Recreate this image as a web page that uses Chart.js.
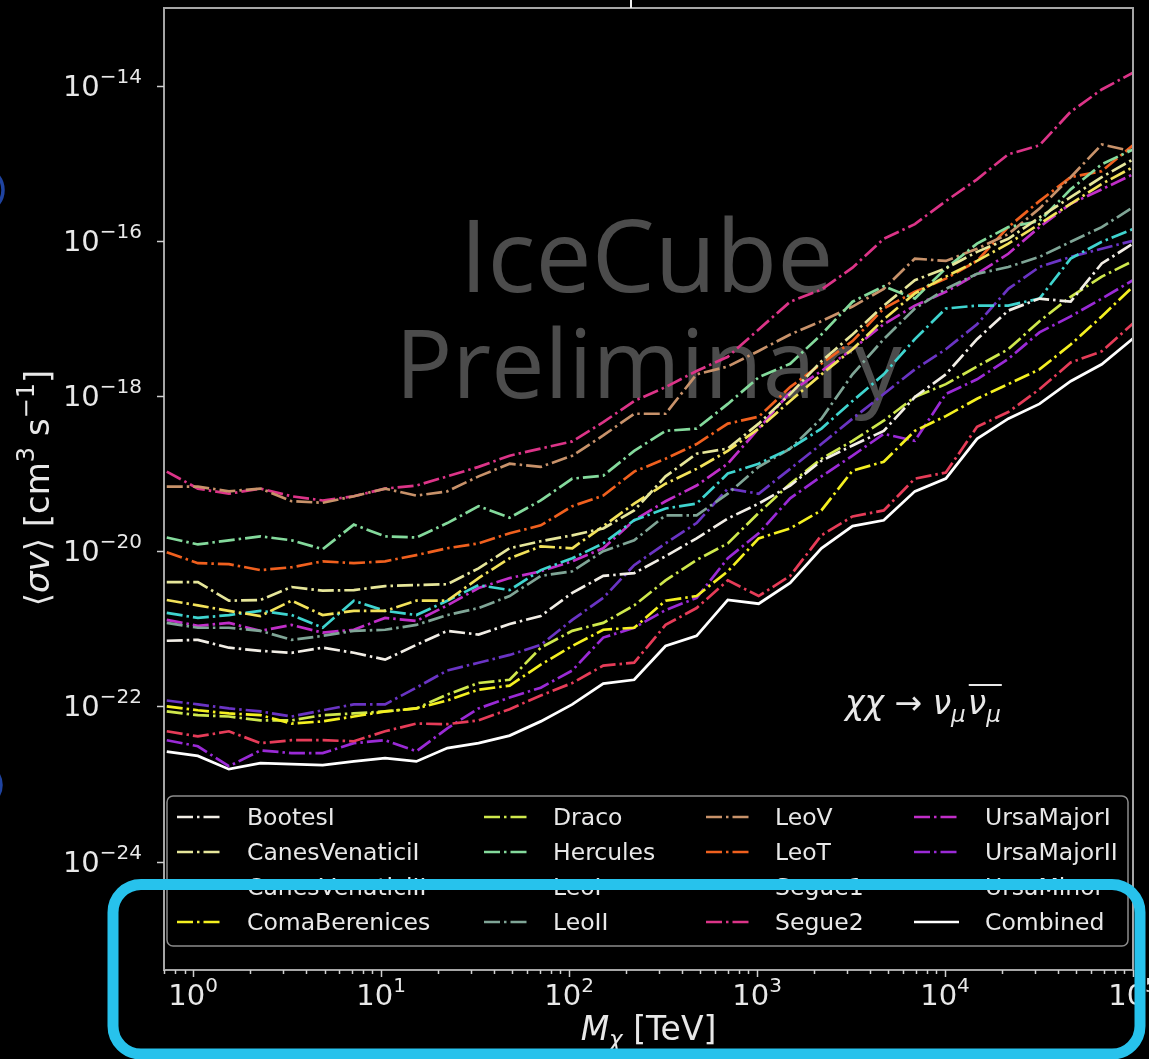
<!DOCTYPE html>
<html>
<head>
<meta charset="utf-8">
<script src="https://cdn.jsdelivr.net/npm/chart.js@4/dist/chart.umd.min.js"></script>
<style>
  html, body { margin: 0; padding: 0; background: #000; }
  canvas { display: block; }
</style>
</head>
<body>
<canvas id="limits" width="1149" height="1059"></canvas>
<script>
// Dark-matter mass grid [TeV]
const massTeV = [0.724, 1.06, 1.55, 2.28, 3.34, 4.89, 7.16, 10.5, 15.4, 22.5, 33.0, 48.3, 70.7, 104, 152, 222,
                 326, 477, 699, 1020, 1500, 2200, 3220, 4720, 6910, 10100, 14800, 21700, 31800, 46600, 68200, 100000];

// 90% C.L. upper limits on <sigma v> [cm^3 s^-1], chi chi -> nu_mu nu_mu-bar
const bootesI = [7.0e-22, 7.2e-22, 5.7e-22, 5.2e-22, 4.9e-22, 5.7e-22, 4.9e-22, 4.0e-22, 6.2e-22, 9.4e-22, 8.4e-22, 1.15e-21, 1.46e-21, 2.9e-21, 4.8e-21, 5.2e-21, 8.6e-21, 1.46e-20, 2.64e-20, 4.1e-20, 7.0e-20, 1.46e-19, 2.3e-19, 3.55e-19, 9.7e-19, 1.9e-18, 5.4e-18, 1.26e-17, 1.8e-17, 1.64e-17, 5.1e-17, 9.2e-17];
const canesVenaticiI = [4.0e-21, 4.0e-21, 2.3e-21, 2.35e-21, 3.45e-21, 3.1e-21, 3.15e-21, 3.55e-21, 3.65e-21, 3.75e-21, 6.0e-21, 1.09e-20, 1.34e-20, 1.6e-20, 1.96e-20, 3.35e-20, 9.2e-20, 1.8e-19, 2.1e-19, 4.4e-19, 1.06e-18, 2.8e-18, 6.2e-18, 1.46e-17, 3.1e-17, 4.4e-17, 7.2e-17, 1.06e-16, 2.0e-16, 3.65e-16, 6.6e-16, 1.12e-15];
const canesVenaticiII = [2.35e-21, 2.0e-21, 1.7e-21, 1.46e-21, 2.3e-21, 1.5e-21, 1.7e-21, 1.7e-21, 2.3e-21, 2.3e-21, 4.5e-21, 8.1e-21, 1.15e-20, 1.09e-20, 2.1e-20, 4.1e-20, 7.4e-20, 1.15e-19, 1.96e-19, 3.8e-19, 8.6e-19, 1.9e-18, 4.0e-18, 9.7e-18, 2.1e-17, 3.45e-17, 5.5e-17, 9.2e-17, 1.64e-16, 3.0e-16, 5.4e-16, 8.9e-16];
const comaBerenices = [1.0e-22, 8.9e-23, 8.1e-23, 7.7e-23, 6.0e-23, 6.4e-23, 7.4e-23, 8.6e-23, 9.4e-23, 1.19e-22, 1.64e-22, 1.85e-22, 3.45e-22, 6.0e-22, 9.7e-22, 1.03e-21, 2.3e-21, 2.64e-21, 5.5e-21, 1.46e-20, 1.96e-20, 3.35e-20, 1.09e-19, 1.42e-19, 3.55e-19, 5.5e-19, 9.2e-19, 1.42e-18, 2.2e-18, 4.6e-18, 1.06e-17, 2.56e-17];
const draco = [8.6e-23, 7.7e-23, 7.4e-23, 6.6e-23, 6.6e-23, 7.7e-23, 8.1e-23, 8.6e-23, 9.4e-23, 1.42e-22, 2.0e-22, 2.2e-22, 5.7e-22, 9.4e-22, 1.19e-21, 2.0e-21, 4.2e-21, 7.7e-21, 1.26e-20, 3.1e-20, 7.4e-20, 1.55e-19, 2.64e-19, 4.8e-19, 9.7e-19, 1.42e-18, 2.4e-18, 4.0e-18, 9.2e-18, 1.9e-17, 3.45e-17, 5.5e-17];
const hercules = [1.5e-20, 1.22e-20, 1.38e-20, 1.55e-20, 1.38e-20, 1.06e-20, 2.2e-20, 1.55e-20, 1.5e-20, 2.3e-20, 3.8e-20, 2.7e-20, 4.5e-20, 8.6e-20, 9.4e-20, 1.96e-19, 3.55e-19, 3.8e-19, 7.9e-19, 1.74e-18, 2.6e-18, 6.2e-18, 1.64e-17, 2.6e-17, 1.8e-17, 4.4e-17, 9.2e-17, 1.5e-16, 1.8e-16, 4.6e-16, 9.7e-16, 1.5e-15];
const leoI = [1.6e-21, 1.38e-21, 1.5e-21, 1.7e-21, 1.5e-21, 1.03e-21, 2.3e-21, 1.7e-21, 1.5e-21, 2.3e-21, 3.65e-21, 3.15e-21, 5.7e-21, 8.1e-21, 1.26e-20, 2.5e-20, 3.55e-20, 4.1e-20, 1.0e-19, 1.34e-19, 2.1e-19, 3.8e-19, 8.6e-19, 1.9e-18, 5.4e-18, 1.34e-17, 1.46e-17, 1.46e-17, 1.8e-17, 5.9e-17, 9.7e-17, 1.42e-16];
const leoII = [1.19e-21, 1.03e-21, 1.03e-21, 9.4e-22, 7.2e-22, 8.1e-22, 9.4e-22, 9.7e-22, 1.12e-21, 1.5e-21, 1.85e-21, 2.64e-21, 4.8e-21, 5.5e-21, 1.0e-20, 1.38e-20, 2.9e-20, 2.9e-20, 5.5e-20, 1.22e-19, 2.1e-19, 5.1e-19, 1.9e-18, 5.4e-18, 1.34e-17, 2.4e-17, 3.75e-17, 4.6e-17, 6.2e-17, 9.7e-17, 1.5e-16, 2.7e-16];
const leoV = [6.8e-20, 6.8e-20, 5.9e-20, 6.4e-20, 4.4e-20, 4.2e-20, 5.1e-20, 6.4e-20, 5.2e-20, 5.9e-20, 9.2e-20, 1.34e-19, 1.22e-19, 1.7e-19, 3.1e-19, 5.9e-19, 5.9e-19, 1.9e-18, 2.4e-18, 3.8e-18, 6.2e-18, 9.2e-18, 1.42e-17, 2.4e-17, 5.9e-17, 5.5e-17, 7.9e-17, 1.22e-16, 2.6e-16, 6.6e-16, 1.74e-15, 1.42e-15];
const leoT = [9.7e-21, 7.0e-21, 6.8e-21, 5.7e-21, 6.2e-21, 7.4e-21, 7.0e-21, 7.4e-21, 8.9e-21, 1.09e-20, 1.26e-20, 1.7e-20, 2.15e-20, 3.8e-20, 5.2e-20, 1.06e-19, 1.55e-19, 2.4e-19, 4.4e-19, 5.4e-19, 1.3e-18, 2.6e-18, 5.1e-18, 1.34e-17, 2.2e-17, 3.25e-17, 5.5e-17, 1.5e-16, 3.25e-16, 6.6e-16, 7.9e-16, 1.7e-15];
const segue1 = [4.77e-23, 4.1e-23, 4.77e-23, 3.35e-23, 3.66e-23, 3.66e-23, 3.55e-23, 4.77e-23, 6.0e-23, 5.9e-23, 6.6e-23, 9.2e-23, 1.38e-22, 2.0e-22, 3.35e-22, 3.66e-22, 1.12e-21, 1.85e-21, 4.2e-21, 2.64e-21, 4.8e-21, 1.6e-20, 2.8e-20, 3.35e-20, 8.6e-20, 1.03e-19, 4.0e-19, 6.2e-19, 1.22e-18, 2.7e-18, 3.76e-18, 8.6e-18];
const segue2 = [1.06e-19, 6.4e-20, 5.5e-20, 6.4e-20, 5.1e-20, 4.5e-20, 5.1e-20, 6.4e-20, 7.0e-20, 9.2e-20, 1.22e-19, 1.7e-19, 2.1e-19, 2.6e-19, 4.6e-19, 8.6e-19, 1.3e-18, 2.1e-18, 3.2e-18, 7.2e-18, 1.64e-17, 2.35e-17, 4.5e-17, 1.06e-16, 1.64e-16, 3.25e-16, 6.2e-16, 1.3e-15, 1.7e-15, 4.6e-15, 8.9e-15, 1.47e-14];
const ursaMajorI = [1.3e-21, 1.09e-21, 1.19e-21, 9.4e-22, 1.12e-21, 8.9e-22, 9.7e-22, 1.38e-21, 1.26e-21, 2.0e-21, 3.35e-21, 4.5e-21, 5.5e-21, 7.4e-21, 1.09e-20, 2.5e-20, 4.4e-20, 7.0e-20, 1.34e-19, 3.8e-19, 1.12e-18, 2.1e-18, 4.0e-18, 8.4e-18, 1.46e-17, 2.2e-17, 3.75e-17, 6.8e-17, 1.5e-16, 3.0e-16, 4.6e-16, 7.2e-16];
const ursaMajorII = [3.66e-23, 3.06e-23, 1.69e-23, 2.7e-23, 2.5e-23, 2.5e-23, 3.35e-23, 3.66e-23, 2.64e-23, 5.2e-23, 9.4e-23, 1.3e-22, 1.74e-22, 2.9e-22, 7.7e-22, 1.03e-21, 1.74e-21, 2.5e-21, 8.1e-21, 1.7e-20, 4.8e-20, 9.2e-20, 1.7e-19, 3.25e-19, 2.64e-19, 1.06e-18, 1.64e-18, 3.0e-18, 6.6e-18, 1.06e-17, 1.8e-17, 3.1e-17];
const ursaMinor = [1.19e-22, 1.06e-22, 9.4e-23, 8.6e-23, 7.4e-23, 8.9e-23, 1.06e-22, 1.06e-22, 1.74e-22, 2.9e-22, 3.65e-22, 4.6e-22, 6.2e-22, 1.3e-21, 2.5e-21, 6.6e-21, 1.26e-20, 2.3e-20, 6.4e-20, 5.5e-20, 1.15e-19, 2.4e-19, 5.1e-19, 1.06e-18, 2.2e-18, 4.0e-18, 8.4e-18, 2.4e-17, 4.6e-17, 6.2e-17, 7.9e-17, 1.0e-16];
const combined = [2.6e-23, 2.3e-23, 1.55e-23, 1.85e-23, 1.8e-23, 1.75e-23, 1.95e-23, 2.15e-23, 1.95e-23, 2.9e-23, 3.35e-23, 4.2e-23, 6.4e-23, 1.06e-22, 1.96e-22, 2.2e-22, 6.0e-22, 8.1e-22, 2.35e-21, 2.1e-21, 3.9e-21, 1.09e-20, 2.1e-20, 2.5e-20, 5.9e-20, 8.6e-20, 2.8e-19, 5.1e-19, 7.9e-19, 1.55e-18, 2.56e-18, 5.5e-18];

// Legend order (column-major, 4 x 4)
const sourceNames = ['BootesI', 'CanesVenaticiI', 'CanesVenaticiII', 'ComaBerenices',
                     'Draco', 'Hercules', 'LeoI', 'LeoII',
                     'LeoV', 'LeoT', 'Segue1', 'Segue2',
                     'UrsaMajorI', 'UrsaMajorII', 'UrsaMinor', 'Combined'];
const sourceValues = [bootesI, canesVenaticiI, canesVenaticiII, comaBerenices,
                      draco, hercules, leoI, leoII,
                      leoV, leoT, segue1, segue2,
                      ursaMajorI, ursaMajorII, ursaMinor, combined];
const sourceColors = ['#f2eee6', '#e6e69a', '#f2e25a', '#f4f020',
                      '#cfe84c', '#84da9c', '#3fd4cf', '#7fa596',
                      '#c8926a', '#f0601e', '#e63c58', '#dc3488',
                      '#c02ec8', '#9a2ad6', '#6a34c4', '#ffffff'];

// Axis tick exponents
const xTickExponents = [0, 1, 2, 3, 4, 5];
const yTickExponents = [-14, -16, -18, -20, -22, -24];

const DASHDOT = [16, 4, 2.5, 4];
const TEXT = '#e8e8e8';
const FRAME = '#a6a6a6';
const font = (px, style) => `${style || ''} ${px}px "DejaVu Sans"`.trim();

function drawRuns(ctx, runs, x, y, align) {
  let total = 0;
  for (const r of runs) { ctx.font = r.f; r.w = ctx.measureText(r.t).width + (r.pad || 0); total += r.w; }
  let cx = align === 'center' ? x - total / 2 : align === 'right' ? x - total : x;
  const spans = [];
  ctx.textAlign = 'left';
  ctx.textBaseline = 'alphabetic';
  for (const r of runs) {
    ctx.font = r.f;
    ctx.fillText(r.t, cx, y + (r.dy || 0));
    spans.push([cx, cx + r.w]);
    cx += r.w;
  }
  return spans;
}

const decorations = {
  id: 'decorations',
  beforeDraw(chart) {
    const ctx = chart.ctx;
    ctx.save();
    ctx.fillStyle = '#000';
    ctx.fillRect(0, 0, chart.width, chart.height);
    ctx.restore();
  },
  beforeDatasetsDraw(chart) {
    const { ctx, chartArea: a } = chart;
    const cx = (a.left + a.right) / 2;
    ctx.save();
    ctx.fillStyle = '#4c4c4c';
    ctx.textAlign = 'center';
    ctx.textBaseline = 'alphabetic';
    ctx.font = '100px "Open Sans"';
    ctx.fillText('IceCube', cx - 2, 292);
    ctx.font = '95px "Open Sans"';
    ctx.fillText('Preliminary', cx, 398);
    ctx.restore();
  },
  afterDatasetsDraw(chart) {
    const { ctx, chartArea: a, scales } = chart;
    const xs = scales.x, ys = scales.y;
    ctx.save();

    // frame
    ctx.strokeStyle = FRAME;
    ctx.lineWidth = 2;
    ctx.strokeRect(a.left, a.top, a.right - a.left, a.bottom - a.top);

    // x ticks (major + minor)
    ctx.strokeStyle = '#cfcfcf';
    ctx.lineWidth = 1.5;
    for (let e = -1; e <= 5; e++) {
      for (let m = 1; m <= 9; m++) {
        const v = m * Math.pow(10, e);
        if (v < xs.min || v > xs.max * 1.0001) continue;
        const px = Math.round(xs.getPixelForValue(v)) + 0.5;
        const len = m === 1 ? 7 : 4;
        ctx.beginPath();
        ctx.moveTo(px, a.bottom);
        ctx.lineTo(px, a.bottom + len);
        ctx.stroke();
      }
    }
    // y ticks
    for (const e of yTickExponents) {
      const py = Math.round(ys.getPixelForValue(Math.pow(10, e))) + 0.5;
      ctx.beginPath();
      ctx.moveTo(a.left, py);
      ctx.lineTo(a.left - 7, py);
      ctx.stroke();
    }

    // tick labels
    ctx.fillStyle = TEXT;
    for (const e of xTickExponents) {
      const px = xs.getPixelForValue(Math.pow(10, e));
      drawRuns(ctx, [{ t: '10', f: font(29) }, { t: String(e), f: font(20), dy: -13 }], px, 1005, 'center');
    }
    for (const e of yTickExponents) {
      const py = ys.getPixelForValue(Math.pow(10, e));
      drawRuns(ctx, [{ t: '10', f: font(29) }, { t: '\u2212' + String(-e), f: font(20), dy: -13 }], 142, py + 10, 'right');
    }

    // axis titles
    drawRuns(ctx, [{ t: 'M', f: font(33, 'italic') }, { t: '\u03c7', f: font(23, 'italic'), dy: 7 },
                   { t: ' [TeV]', f: font(33) }], (a.left + a.right) / 2, 1040, 'center');
    ctx.save();
    ctx.translate(49, 488);
    ctx.rotate(-Math.PI / 2);
    drawRuns(ctx, [{ t: '\u27e8', f: font(34) }, { t: '\u03c3v', f: font(34, 'italic') }, { t: '\u27e9', f: font(34) },
                   { t: ' [cm', f: font(34) }, { t: '3', f: font(24), dy: -15 }, { t: ' s', f: font(34) },
                   { t: '\u22121', f: font(24), dy: -15 }, { t: ']', f: font(34) }], 0, 0, 'center');
    ctx.restore();

    // channel annotation
    const sp = drawRuns(ctx, [{ t: '\u03c7\u03c7', f: font(33, 'italic') }, { t: ' \u2192 ', f: font(33) },
                              { t: '\u03bd', f: font(33, 'italic') }, { t: '\u03bc', f: font(23, 'italic'), dy: 8, pad: 2 },
                              { t: '\u03bd', f: font(33, 'italic') }, { t: '\u03bc', f: font(23, 'italic'), dy: 8 }], 845, 714, 'left');
    ctx.strokeStyle = TEXT;
    ctx.lineWidth = 1.8;
    ctx.beginPath();
    ctx.moveTo(sp[4][0] + 1, 685);
    ctx.lineTo(sp[5][1] + 1, 685);
    ctx.stroke();

    // legend
    const box = { x: 167, y: 796, w: 961, h: 150 };
    ctx.beginPath();
    ctx.roundRect(box.x, box.y, box.w, box.h, 6);
    ctx.fillStyle = '#000';
    ctx.fill();
    ctx.strokeStyle = '#8c8c8c';
    ctx.lineWidth = 1.5;
    ctx.stroke();
    const handleX = [177, 484, 706, 914];
    const textX = [247, 553, 775, 985];
    const rowY = [817, 852, 887, 922];
    sourceNames.forEach((name, i) => {
      const c = Math.floor(i / 4), r = i % 4;
      const y = rowY[r];
      ctx.strokeStyle = sourceColors[i];
      ctx.lineWidth = 2.6;
      ctx.setLineDash(name === 'Combined' ? [] : DASHDOT);
      ctx.beginPath();
      ctx.moveTo(handleX[c], y);
      ctx.lineTo(handleX[c] + 45, y);
      ctx.stroke();
      ctx.setLineDash([]);
      ctx.fillStyle = TEXT;
      ctx.font = font(23.5);
      ctx.textAlign = 'left';
      ctx.fillText(name, textX[c], y + 8);
    });
    ctx.restore();
  },
  afterDraw(chart) {
    const ctx = chart.ctx;
    ctx.save();
    // cropped title stroke above the frame
    ctx.fillStyle = '#f0f0f0';
    ctx.fillRect(630, 0, 2, 8);
    // slide highlight around the mass axis
    ctx.strokeStyle = '#27c2ec';
    ctx.lineWidth = 11;
    ctx.beginPath();
    ctx.roundRect(113, 884.5, 1027, 169.5, 28);
    ctx.stroke();
    // slide edge markers
    ctx.strokeStyle = '#1f43a0';
    ctx.lineWidth = 3.5;
    ctx.beginPath();
    ctx.arc(-20, 190, 23, -0.75, 0.75);
    ctx.stroke();
    ctx.beginPath();
    ctx.arc(-20, 785, 21, -0.75, 0.75);
    ctx.stroke();
    ctx.restore();
  }
};

const datasets = sourceNames.map((name, i) => ({
  label: name,
  data: massTeV.map((m, k) => ({ x: m, y: sourceValues[i][k] })),
  borderColor: sourceColors[i],
  borderWidth: name === 'Combined' ? 2.8 : 2.7,
  borderDash: name === 'Combined' ? [] : DASHDOT,
  pointRadius: 0,
  fill: false,
  tension: 0
}));

new Chart(document.getElementById('limits'), {
  type: 'line',
  data: { datasets },
  options: {
    responsive: false,
    animation: false,
    devicePixelRatio: 1,
    layout: { padding: { left: 164, top: 8, right: 16, bottom: 89 } },
    plugins: { legend: { display: false }, tooltip: { enabled: false } },
    scales: {
      x: { type: 'logarithmic', min: 0.728, max: 1e5, display: false },
      y: { type: 'logarithmic', min: 4.34e-26, max: 1.0e-13, display: false }
    }
  },
  plugins: [decorations]
});
</script>
</body>
</html>
